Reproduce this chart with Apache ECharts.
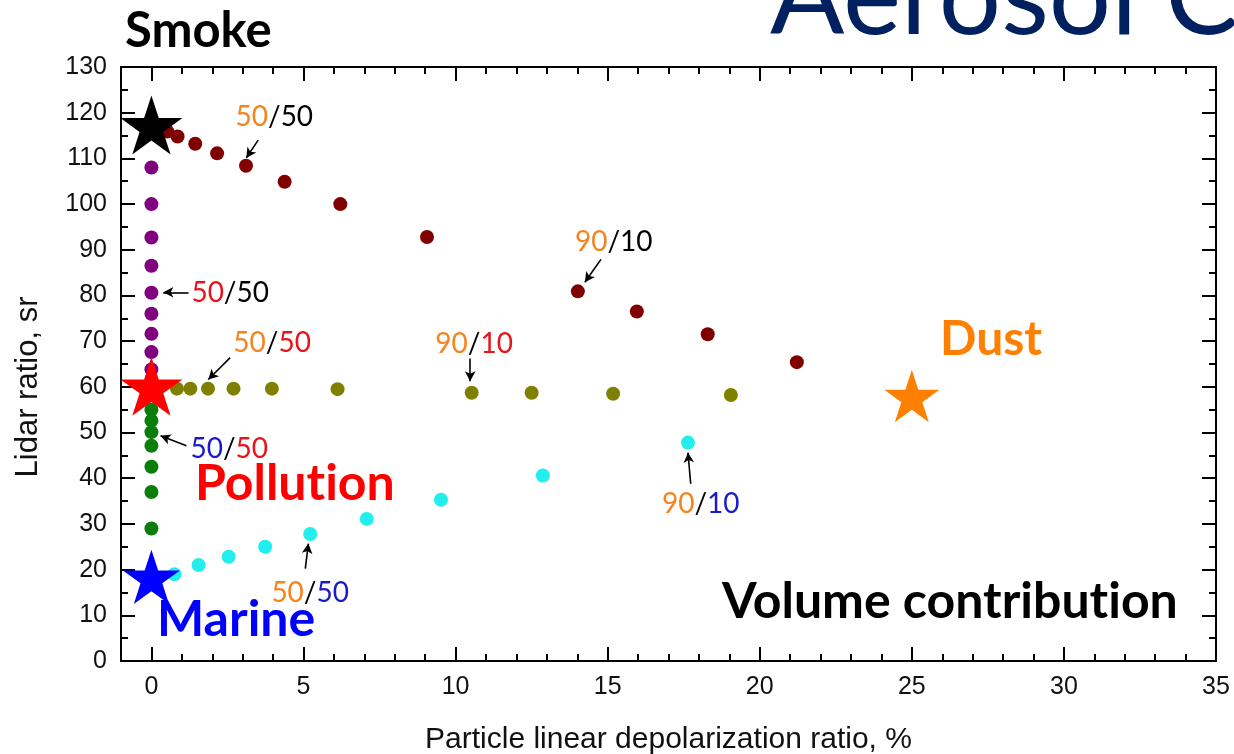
<!DOCTYPE html>
<html>
<head>
<meta charset="utf-8">
<script src="https://cdn.jsdelivr.net/npm/echarts@6/dist/echarts.min.js"></script>
<style>
html,body{margin:0;padding:0;background:#fff;}
#chart{width:1234px;height:754px;}
</style>
</head>
<body>
<div id="chart"></div>
<script>
// ---------- data ----------
const xMajorTicks = [0, 5, 10, 15, 20, 25, 30, 35];
const xMinorTicks = [1,2,3,4,6,7,8,9,11,12,13,14,16,17,18,19,21,22,23,24,26,27,28,29,31,32,33,34];

// smoke / dust mixture (dark red)
const smokeDustX = [0.52, 0.86, 1.44, 2.16, 3.11, 4.38, 6.21, 9.06, 14.02, 15.96, 18.29, 21.22];
const smokeDustY = [115.9, 114.8, 113.2, 111.1, 108.4, 104.9, 100.0, 92.8, 80.9, 76.5, 71.5, 65.4];
// smoke / pollution mixture (purple), depolarization 0
const smokePollY = [108.0, 100.0, 92.7, 86.5, 80.6, 76.0, 71.6, 67.6, 63.8];
// pollution / marine mixture (green), depolarization 0
const pollMarineY = [55.0, 52.6, 50.1, 47.1, 42.5, 37.0, 29.0];
// pollution / dust mixture (olive)
const pollDustX = [0.84, 1.28, 1.86, 2.70, 3.96, 6.12, 10.53, 12.50, 15.18, 19.05];
const pollDustY = [59.6, 59.6, 59.6, 59.6, 59.6, 59.5, 58.7, 58.7, 58.5, 58.2];
// dust / marine mixture (cyan)
const dustMarineX = [0.76, 1.55, 2.54, 3.74, 5.22, 7.08, 9.52, 12.87, 17.64];
const dustMarineY = [19.0, 21.0, 22.8, 25.0, 27.8, 31.1, 35.3, 40.6, 47.8];

// pure types (stars)
const pureNames = ['Smoke', 'Pollution', 'Marine', 'Dust'];
const pureX = [0, 0, 0, 25];
const pureY = [117.3, 60.1, 18.4, 58.0];

// annotations "a/b" (data coordinates)
const annotA = ['50', '50', '50', '50', '50', '90', '90', '90'];
const annotB = ['50', '50', '50', '50', '50', '10', '10', '10'];
const annotColA = ['o', 'r', 'o', 'b', 'o', 'o', 'o', 'o'];
const annotColB = ['k', 'k', 'r', 'r', 'b', 'k', 'r', 'b'];
const annotX = [4.04, 2.59, 3.97, 2.56, 5.22, 15.20, 10.61, 18.06];
const annotY = [119.1, 80.5, 69.5, 46.3, 14.9, 91.7, 69.3, 34.4];
const arrowFromX = [3.51, 1.22, 2.59, 1.15, 5.06, 14.78, 10.48, 17.73];
const arrowFromY = [114.0, 80.7, 66.4, 47.1, 20.2, 87.9, 66.2, 38.8];
const arrowToX = [3.12, 0.39, 1.87, 0.30, 5.16, 14.25, 10.48, 17.64];
const arrowToY = [110.1, 80.7, 61.6, 49.3, 25.7, 82.9, 61.2, 45.6];

// ---------- styling ----------
const C = {smokeDust:'#800000', smokePoll:'#800080', pollMarine:'#0a7d0a', pollDust:'#808000', dustMarine:'#22eeee'};
const starColors = ['#000000', '#ff0000', '#0000ff', '#ff8000'];
const starSizes = [62, 62, 57, 55];
const STAR = 'path://M50 0 L61.23 34.55 L97.55 34.55 L68.16 55.9 L79.39 90.45 L50 69.1 L20.61 90.45 L31.84 55.9 L2.45 34.55 L38.77 34.55 Z';
const tickFont = 'Liberation Sans, Arial, sans-serif';
const boldFont = 'Lato, Noto Sans, sans-serif';
const ZW = '\u200C'; // breaks the "ti" ligature

const zip = (xs, ys) => xs.map((x, i) => [x, ys[i]]);
const atZero = ys => ys.map(y => [0, y]);

const axisLine = {show:true, onZero:false, lineStyle:{color:'#000', width:2}};
function xAx(pos, ticks, len, labels) {
  return {
    type:'value', position:pos, min:-1, max:35, gridIndex:0,
    axisLine: axisLine,
    axisTick:{show:true, inside:true, length:len, customValues:ticks, lineStyle:{color:'#000', width:2}},
    axisLabel: labels ? {show:true, customValues:xMajorTicks, fontSize:25, color:'#111', fontFamily:tickFont, margin:14} : {show:false},
    splitLine:{show:false},
    name: labels ? 'Particle linear depolarization ratio, %' : '',
    nameLocation:'middle', nameGap:79,
    nameTextStyle:{fontSize:30, color:'#111', fontFamily:tickFont, verticalAlign:'middle'}
  };
}
function yAx(pos, labels) {
  return {
    type:'value', position:pos, min:0, max:130, interval:10,
    axisLine: axisLine,
    axisTick:{show:true, inside:true, length:14, lineStyle:{color:'#000', width:2}},
    minorTick:{show:true, splitNumber:2, length:7, lineStyle:{color:'#000', width:2}},
    axisLabel: labels ? {show:true, fontSize:25, color:'#111', fontFamily:tickFont, margin:14} : {show:false},
    splitLine:{show:false}, minorSplitLine:{show:false}
  };
}

const dot = (name, data, color) => ({
  type:'scatter', name, data, symbol:'circle', symbolSize:14,
  itemStyle:{color, opacity:1}, z:2
});

const annotData = annotX.map((x, i) => ({
  value:[x, annotY[i]],
  label:{formatter:'{' + annotColA[i] + '|' + annotA[i] + '}{k|/}{' + annotColB[i] + '|' + annotB[i] + '}'}
}));
const arrowData = arrowFromX.map((x, i) => [
  {coord:[x, arrowFromY[i]]}, {coord:[arrowToX[i], arrowToY[i]]}
]);
const rs = c => ({color:c, fontSize:28, fontFamily:boldFont});

const option = {
  backgroundColor:'#fff',
  animation:false,
  grid:{left:121, right:18, top:67, bottom:93, containLabel:false, outerBoundsMode:'none'},
  xAxis:[
    xAx('bottom', xMajorTicks, 14, true),
    xAx('bottom', xMinorTicks, 7, false),
    xAx('top', xMajorTicks, 14, false),
    xAx('top', xMinorTicks, 7, false)
  ],
  yAxis:[yAx('left', true), yAx('right', false)],
  series:[
    dot('Smoke/Dust', zip(smokeDustX, smokeDustY), C.smokeDust),
    dot('Smoke/Pollution', atZero(smokePollY), C.smokePoll),
    dot('Pollution/Marine', atZero(pollMarineY), C.pollMarine),
    dot('Pollution/Dust', zip(pollDustX, pollDustY), C.pollDust),
    dot('Dust/Marine', zip(dustMarineX, dustMarineY), C.dustMarine),
    {
      type:'scatter', name:'Pure types', z:3,
      symbol:STAR, symbolKeepAspect:true,
      itemStyle:{opacity:1},
      data: pureX.map((x, i) => ({
        name:pureNames[i], value:[x, pureY[i]],
        symbolSize:starSizes[i], itemStyle:{color:starColors[i], opacity:1}
      }))
    },
    {
      type:'scatter', name:'annotations', z:4, silent:true,
      symbol:'circle', symbolSize:1, itemStyle:{color:'rgba(0,0,0,0)', opacity:1},
      label:{show:true, position:'inside', opacity:1, rich:{o:rs('#f5841f'), k:rs('#000'), r:rs('#e8141c'), b:rs('#1a1acc')}},
      data: annotData,
      markLine:{
        silent:true, symbol:['none', 'arrow'], symbolSize:[8, 10],
        itemStyle:{color:'#000', opacity:1},
        lineStyle:{color:'#000', width:1.6, type:'solid', opacity:1},
        label:{show:false}, emphasis:{disabled:true},
        data: arrowData
      }
    }
  ],
  graphic:[
    {type:'text', x:770, y:54, style:{text:'Aerosol Co', font:'110px Lato, Noto Sans, sans-serif', fill:'#002060', verticalAlign:'bottom'}},
    {type:'text', x:125, y:31, style:{text:'Smoke', font:'bold 49px ' + boldFont, fill:'#000', verticalAlign:'middle'}},
    {type:'text', x:195, y:484, style:{text:'Polluti'.replace('ti', 't' + ZW + 'i') + 'on', font:'bold 50px ' + boldFont, fill:'#ff0000', verticalAlign:'middle'}},
    {type:'text', x:157, y:620, style:{text:'Marine', font:'bold 50px ' + boldFont, fill:'#0000ff', verticalAlign:'middle'}},
    {type:'text', x:940, y:340, style:{text:'Dust', font:'bold 48px ' + boldFont, fill:'#ff8000', verticalAlign:'middle'}},
    {type:'text', x:722, y:602, style:{text:'Volume contribut' + ZW + 'ion', font:'bold 50px ' + boldFont, fill:'#000', verticalAlign:'middle'}},
    {type:'text', x:28, y:387, rotation:Math.PI/2, style:{text:'Lidar ratio, sr', font:'31px ' + tickFont, fill:'#111', align:'center', verticalAlign:'middle'}}
  ]
};

const chart = echarts.init(document.getElementById('chart'), null, {renderer:'canvas'});
chart.setOption(option);
</script>
</body>
</html>
